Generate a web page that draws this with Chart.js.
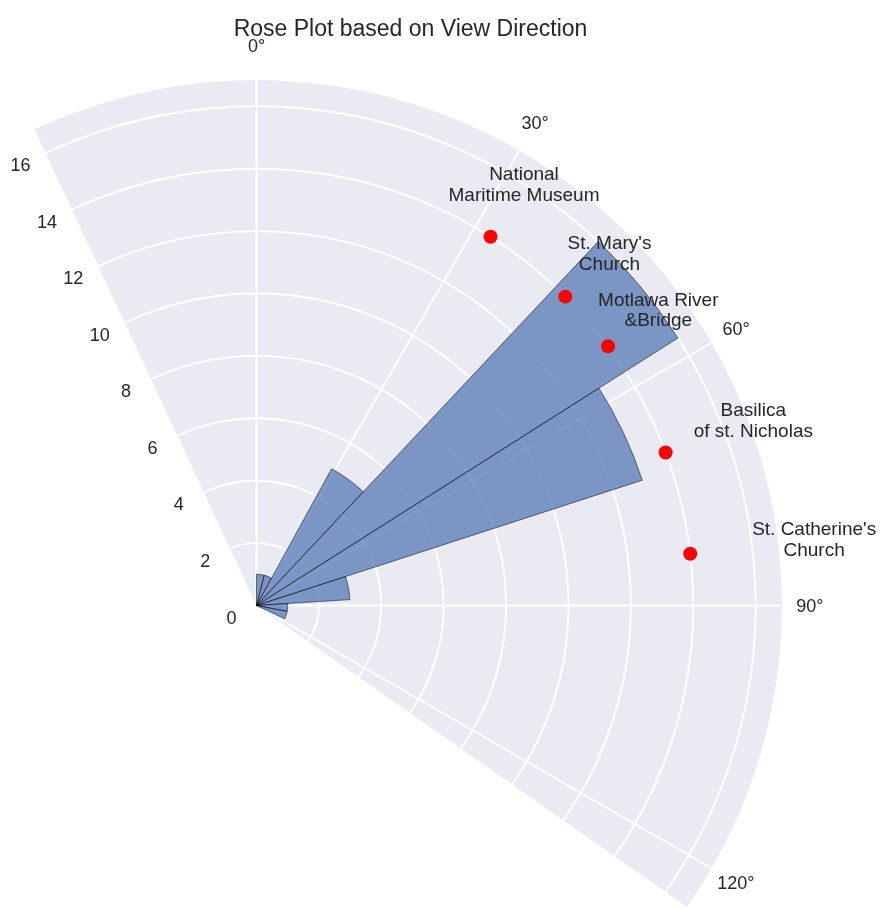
<!DOCTYPE html>
<html>
<head>
<meta charset="utf-8">
<title>Rose Plot based on View Direction</title>
<script src="https://cdn.jsdelivr.net/npm/chart.js@4.4.1/dist/chart.umd.min.js"></script>
<style>
  html, body { margin: 0; padding: 0; background: #ffffff; }
  canvas { display: block; }
</style>
</head>
<body>
<canvas id="roseChart" width="883" height="909"></canvas>
<script>
// View direction histogram: 25 bins of 14.4 degrees, clockwise from north
const binStarts = [0, 14.4, 28.8, 43.2, 57.6, 72, 86.4, 100.8, 115.2, 129.6, 144, 158.4, 172.8,
                   187.2, 201.6, 216, 230.4, 244.8, 259.2, 273.6, 288, 302.4, 316.8, 331.2, 345.6];
const binCounts = [1, 1, 5, 16, 13, 3, 1, 1, 0, 0, 0, 0, 0,
                   0, 0, 0, 0, 0, 0, 0, 0, 0, 0, 0, 0];

// Landmarks
const placeNames = [
    ["National", "Maritime Museum"],
    ["St. Mary's", "Church"],
    ["Motlawa River", "&Bridge"],
    ["Basilica", "of st. Nicholas"],
    ["St. Catherine's", "Church"],
];
const placeBearings = [32.4, 45, 53.6, 69.5, 83.2];
const placeDistances = [14, 14, 14, 14, 14];
const placeLabelDistances = [16, 16, 16, 17, 18];

// Axes
const thetaTicks = [0, 30, 60, 90, 120];
const thetaMin = -25;
const thetaMax = 125;
const rMax = 16.84;
const rStep = 2;

// Layout
const CENTER_X = 256.5;
const CENTER_Y = 605.5;
const RADIUS = 525.4;
const FONT = '"Liberation Sans", Arial, sans-serif';
const INK = "#262626";

function toCanvasAngle(deg) {
    return (deg - 90) * Math.PI / 180;
}

function polarXY(scale, deg, dist) {
    const a = toCanvasAngle(deg);
    return { x: scale.xCenter + Math.cos(a) * dist, y: scale.yCenter + Math.sin(a) * dist };
}

// baseline so that the cap height is centred on y
function centredText(ctx, text, x, y, size) {
    ctx.font = size + "px " + FONT;
    ctx.textAlign = "center";
    ctx.textBaseline = "alphabetic";
    ctx.fillText(text, x, y + 0.358 * size);
}

const polarFrame = {
    id: "polarFrame",
    beforeDraw(chart) {
        const ctx = chart.ctx;
        const r = chart.scales.r;
        const outer = r.getDistanceFromCenterForValue(rMax);

        ctx.save();
        ctx.beginPath();
        ctx.moveTo(r.xCenter, r.yCenter);
        ctx.arc(r.xCenter, r.yCenter, outer, toCanvasAngle(thetaMin), toCanvasAngle(thetaMax));
        ctx.closePath();
        ctx.fillStyle = "#eaeaf2";
        ctx.fill();
        ctx.clip();

        ctx.strokeStyle = "#ffffff";
        ctx.lineWidth = 1.9;
        thetaTicks.forEach((t) => {
            const p = polarXY(r, t, outer);
            ctx.beginPath();
            ctx.moveTo(r.xCenter, r.yCenter);
            ctx.lineTo(p.x, p.y);
            ctx.stroke();
        });
        // clip stays on while the radial grid is drawn
    },
    beforeDatasetsDraw(chart) {
        chart.ctx.restore();
    },
    afterDraw(chart) {
        const ctx = chart.ctx;
        const r = chart.scales.r;
        const outer = r.getDistanceFromCenterForValue(rMax);
        ctx.save();
        ctx.fillStyle = INK;

        // radial tick labels along the left edge
        const a = toCanvasAngle(thetaMin);
        r.ticks.forEach((tick) => {
            if (tick.value > rMax || tick.value % rStep !== 0) return;
            const p = polarXY(r, thetaMin, r.getDistanceFromCenterForValue(tick.value));
            centredText(ctx, String(tick.value), p.x + Math.sin(a) * 27.5, p.y - Math.cos(a) * 27.5, 18);
        });

        // angle labels (a little more room above the top one)
        thetaTicks.forEach((t) => {
            const up = Math.max(0, Math.cos(t * Math.PI / 180));
            const p = polarXY(r, t, outer + 28 + 7 * Math.pow(up, 4));
            centredText(ctx, t + "\u00b0", p.x, p.y, 18);
        });

        // landmark dots
        ctx.fillStyle = "#ff0000";
        placeBearings.forEach((b, i) => {
            const p = polarXY(r, b, r.getDistanceFromCenterForValue(placeDistances[i]));
            ctx.beginPath();
            ctx.arc(p.x, p.y, 7, 0, Math.PI * 2);
            ctx.fill();
        });

        // landmark names
        ctx.fillStyle = INK;
        placeBearings.forEach((b, i) => {
            const p = polarXY(r, b, r.getDistanceFromCenterForValue(placeLabelDistances[i]));
            centredText(ctx, placeNames[i][0], p.x, p.y - 10.4, 19);
            centredText(ctx, placeNames[i][1], p.x, p.y + 10.4, 19);
        });

        // title
        ctx.font = "23px " + FONT;
        ctx.textAlign = "center";
        ctx.textBaseline = "alphabetic";
        ctx.fillText("Rose Plot based on View Direction", 410.5, 36);
        ctx.restore();
    },
};

new Chart(document.getElementById("roseChart"), {
    type: "polarArea",
    data: {
        labels: binStarts.map((s) => s + "\u00b0"),
        datasets: [{
            label: "View direction",
            data: binCounts,
            backgroundColor: "rgba(76, 114, 176, 0.7)",
            borderColor: "rgba(0, 0, 0, 0.65)",
            borderWidth: 0.8,
        }],
    },
    options: {
        responsive: false,
        animation: false,
        devicePixelRatio: 1,
        events: [],
        plugins: {
            legend: { display: false },
            tooltip: { enabled: false },
        },
        scales: {
            r: {
                min: 0,
                max: rMax,
                startAngle: 0,
                ticks: { display: false, stepSize: rStep, includeBounds: false },
                grid: { color: "#ffffff", lineWidth: 1.9, circular: true },
                angleLines: { display: false },
                pointLabels: { display: false },
                afterFit(scale) {
                    scale.xCenter = CENTER_X;
                    scale.yCenter = CENTER_Y;
                    scale.drawingArea = RADIUS;
                },
            },
        },
    },
    plugins: [polarFrame],
});
</script>
</body>
</html>
